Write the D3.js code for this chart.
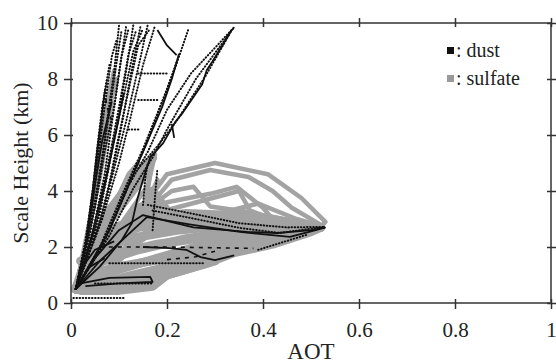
<!DOCTYPE html>
<html>
<head>
<meta charset="utf-8">
<script src="https://cdn.jsdelivr.net/npm/d3@7"></script>
<style>
  body { margin: 0; background: #fff; }
</style>
</head>
<body>
<script>
// tick values
const xTicks = [0, 0.2, 0.4, 0.6, 0.8, 1];
const yTicks = [0, 2, 4, 6, 8, 10];
const xTickLabels = ["0", "0.2", "0.4", "0.6", "0.8", "1"];
const yTickLabels = ["0", "2", "4", "6", "8", "10"];
const legendLabels = [": dust", ": sulfate"];

// sulfate profiles, [AOT, scale height km]
const sulfateLoops = [
  [[0.01,0.5],[0.03,2],[0.05,4],[0.065,6],[0.08,7.5],[0.09,8.3]],
  [[0.01,0.5],[0.035,2.5],[0.06,4.5],[0.075,6],[0.085,7.2]],
  [[0.01,0.5],[0.04,3],[0.065,5.5],[0.08,7.0],[0.095,8.0]],
  [[0.01,0.5],[0.05,2],[0.09,3.5],[0.12,4.6],[0.14,5.0]],
  [[0.01,0.5],[0.07,2],[0.12,3.2],[0.16,4.2],[0.175,5.3]],
  [[0.01,0.5],[0.09,1.8],[0.15,3],[0.165,4.6]],
  [[0.01,0.5],[0.1,2.6],[0.16,3.6],[0.18,4.4]],
  [[0.01,0.5],[0.1,2.7],[0.17,3.9],[0.2,4.6],[0.3,5.0],[0.41,4.6],[0.435,4.3],[0.48,3.75],[0.53,2.9],[0.52,2.7]],
  [[0.01,0.5],[0.12,2.9],[0.18,3.8],[0.21,4.4],[0.29,4.75],[0.37,4.5],[0.42,4.0],[0.46,3.4],[0.52,2.8]],
  [[0.01,0.5],[0.13,3.0],[0.21,4.0],[0.255,4.15],[0.29,3.45],[0.37,3.25],[0.45,2.9],[0.52,2.7]],
  [[0.01,0.5],[0.14,3.1],[0.2,3.6],[0.29,3.9],[0.345,4.15],[0.4,3.4],[0.415,3.1],[0.52,2.7]],
  [[0.01,0.5],[0.15,3.1],[0.24,3.5],[0.35,4.0],[0.373,3.3],[0.43,2.95],[0.52,2.7]],
  [[0.01,0.5],[0.17,3.2],[0.26,3.0],[0.33,3.3],[0.39,3.55],[0.47,3.0],[0.52,2.75]]
];
const sulfateCore = [
  [[0.01,0.5],[0.1,0.55],[0.18,0.9],[0.28,1.4],[0.34,1.8],[0.42,2.1],[0.5,2.55],[0.52,2.7]],
  [[0.01,0.5],[0.08,0.8],[0.18,1.2],[0.28,1.7],[0.4,2.25],[0.52,2.7]],
  [[0.01,0.5],[0.06,1.0],[0.16,1.5],[0.26,2.0],[0.38,2.4],[0.52,2.7]],
  [[0.01,0.5],[0.05,1.4],[0.14,1.9],[0.24,2.3],[0.36,2.6],[0.52,2.7]],
  [[0.01,0.5],[0.05,1.8],[0.12,2.3],[0.22,2.6],[0.35,2.8],[0.52,2.7]],
  [[0.01,0.5],[0.06,2.2],[0.14,2.7],[0.25,2.9],[0.4,2.9],[0.52,2.7]],
  [[0.01,0.5],[0.07,2.6],[0.15,3.0],[0.24,3.2],[0.38,3.1],[0.52,2.7]],
  [[0.01,0.5],[0.08,1.2],[0.12,2.0],[0.17,2.6],[0.2,3.3],[0.17,4.0]],
  [[0.01,0.5],[0.12,0.7],[0.2,1.0],[0.3,1.5]],
  [[0.02,0.45],[0.1,0.45],[0.17,0.6],[0.2,1.0]],
  [[0.01,0.5],[0.04,2.0],[0.08,3.3],[0.12,4.2],[0.16,5.0]],
  [[0.01,0.5],[0.06,2.5],[0.11,3.6],[0.15,4.5],[0.17,5.2]],
  [[0.01,0.5],[0.09,2.3],[0.14,3.4],[0.18,3.6],[0.19,3.0]],
  [[0.03,1.0],[0.1,1.3],[0.2,1.6],[0.32,2.2],[0.45,2.5]],
  [[0.02,1.5],[0.08,1.7],[0.18,2.1],[0.3,2.4]]
];

// dust profiles
const dustSolid = [
  [[0.01,0.5],[0.04,1.4],[0.08,2.6],[0.11,3.8],[0.13,4.6],[0.16,5.8],[0.19,7.0],[0.21,8.0],[0.225,8.9]],
  [[0.01,0.5],[0.06,1.3],[0.106,2.25],[0.127,2.86],[0.138,3.7],[0.15,4.4],[0.165,5.2],[0.192,5.71],[0.217,6.46],[0.233,6.8],[0.273,7.8],[0.283,8.32],[0.294,8.61],[0.335,9.75]],
  [[0.18,9.75],[0.2,9.2],[0.22,8.85]],
  [[0.01,0.5],[0.05,1.6],[0.1,2.6],[0.15,3.14],[0.255,2.7],[0.367,2.54],[0.43,2.5],[0.5,2.6],[0.53,2.7]],
  [[0.01,0.5],[0.06,1.5],[0.158,3.07],[0.25,2.8],[0.352,2.54],[0.456,2.36],[0.51,2.6],[0.53,2.7]],
  [[0.15,2.0],[0.206,1.96],[0.24,1.9],[0.27,1.64],[0.3,1.53],[0.34,1.7]],
  [[0.01,0.5],[0.02,0.7],[0.08,0.9],[0.165,0.93],[0.17,0.75],[0.1,0.7],[0.03,0.6]],
  [[0.01,0.5],[0.03,2],[0.045,4],[0.055,5.5],[0.065,6.8],[0.07,7.5]],
  [[0.01,0.5],[0.04,2.2],[0.06,3.6],[0.075,4.6],[0.095,6.2],[0.11,7.5]],
  [[0.01,0.5],[0.035,2.4],[0.05,4.2],[0.065,5.8],[0.085,7.2]],
  [[0.02,1.2],[0.05,1.9],[0.09,2.2]],
  [[0.02,0.8],[0.04,1.3],[0.07,1.6]],
  [[0.21,6.4],[0.215,5.9]]
];
const dustDotted = [
  [[0.01,0.5],[0.04,2.5],[0.06,4.5],[0.075,6.5],[0.09,8.3],[0.1,9.9]],
  [[0.01,0.5],[0.045,2.5],[0.07,4.6],[0.085,6.4],[0.1,8.2],[0.115,9.9]],
  [[0.01,0.5],[0.05,2.6],[0.075,4.5],[0.095,6.3],[0.115,8.3],[0.13,9.95]],
  [[0.01,0.5],[0.055,2.6],[0.085,4.6],[0.105,6.3],[0.125,8.2],[0.145,9.9]],
  [[0.01,0.5],[0.06,2.8],[0.09,4.8],[0.115,6.5],[0.14,8.4],[0.16,9.95]],
  [[0.01,0.5],[0.065,3],[0.1,5.0],[0.125,6.7],[0.15,8.5],[0.175,9.9]],
  [[0.01,0.5],[0.035,2.5],[0.05,4.5],[0.06,6.0],[0.07,7.5],[0.08,8.5]],
  [[0.01,0.5],[0.04,3],[0.055,5],[0.07,7],[0.085,8.8],[0.095,9.4]],
  [[0.01,0.5],[0.03,2.2],[0.045,4.0],[0.055,5.6],[0.065,7.0],[0.075,8.0]],
  [[0.01,0.5],[0.045,3.2],[0.065,5.2],[0.08,6.8],[0.095,8.6],[0.105,9.7]],
  [[0.01,0.5],[0.05,3.4],[0.07,5.4],[0.09,7.0],[0.105,8.8],[0.12,9.8]],
  [[0.01,0.5],[0.055,3.0],[0.08,5.2],[0.1,7.0],[0.12,8.9],[0.135,9.7]],
  [[0.01,0.5],[0.06,3.2],[0.085,5.5],[0.11,7.4],[0.13,9.0],[0.15,9.8]],
  [[0.01,0.5],[0.07,3.4],[0.095,5.6],[0.12,7.6],[0.14,9.2],[0.165,9.8]],
  [[0.01,0.5],[0.06,2.0],[0.11,4.0],[0.15,5.5],[0.19,7.2],[0.217,8.4],[0.245,9.8]],
  [[0.01,0.5],[0.065,2.1],[0.115,4.1],[0.155,5.6],[0.195,7.4],[0.22,8.6]],
  [[0.01,0.5],[0.07,2.2],[0.12,4.2],[0.16,5.4],[0.2,6.9],[0.25,8.2],[0.34,9.85]],
  [[0.01,0.5],[0.08,2.4],[0.13,4.1],[0.17,5.2],[0.2,6.2],[0.26,8.0],[0.34,9.85]],
  [[0.14,4.8],[0.18,5.6],[0.22,6.5],[0.28,8.1],[0.33,9.6]],
  [[0.14,8.2],[0.2,8.2]],
  [[0.14,7.25],[0.185,7.25]],
  [[0.12,6.2],[0.145,6.2]],
  [[0.08,1.42],[0.275,1.42]],
  [[0.005,0.18],[0.11,0.18]],
  [[0.17,3.3],[0.248,3.04],[0.352,2.68],[0.435,2.5],[0.51,2.68],[0.53,2.7]],
  [[0.16,3.5],[0.25,3.2],[0.35,2.85],[0.45,2.7],[0.53,2.72]],
  [[0.39,1.9],[0.49,2.43]],
  [[0.05,0.7],[0.17,0.7]],
  [[0.15,3.5],[0.155,4.5],[0.16,5.0]],
  [[0.17,2.6],[0.175,3.8],[0.18,4.8]]
];
const dustDashed = [
  [[0.06,2.0],[0.2,2.0],[0.38,1.95]],
  [[0.07,7.6],[0.075,7.0],[0.085,6.5]],
  [[0.2,1.55],[0.26,1.65],[0.3,1.85]]
];

const width = 556, height = 363;
const marginLeft = 71, marginRight = 5, marginTop = 23, marginBottom = 60;
const serif = '"Liberation Serif"';

const x = d3.scaleLinear().domain([0, 1]).range([marginLeft, width - marginRight]);
const y = d3.scaleLinear().domain([0, 10]).range([height - marginBottom, marginTop]);

const svg = d3.create("svg").attr("width", width).attr("height", height)
  .style("display", "block");

const line = d3.line().x(d => x(d[0])).y(d => y(d[1]));

// sulfate
svg.append("g")
  .attr("fill", "none").attr("stroke", "#a3a3a3").attr("stroke-width", 9)
  .attr("stroke-linejoin", "round").attr("stroke-linecap", "round")
  .selectAll("path").data(sulfateCore).join("path").attr("d", line);
svg.append("g")
  .attr("fill", "none").attr("stroke", "#a3a3a3").attr("stroke-width", 4.5)
  .attr("stroke-linejoin", "round").attr("stroke-linecap", "round")
  .selectAll("path").data(sulfateLoops).join("path").attr("d", line);

// dust
svg.append("g")
  .attr("fill", "none").attr("stroke", "#111").attr("stroke-width", 2)
  .attr("stroke-linecap", "round").attr("stroke-dasharray", "0.5,2.6")
  .selectAll("path").data(dustDotted).join("path").attr("d", line);
svg.append("g")
  .attr("fill", "none").attr("stroke", "#111").attr("stroke-width", 1.6)
  .attr("stroke-dasharray", "4,5")
  .selectAll("path").data(dustDashed).join("path").attr("d", line);
svg.append("g")
  .attr("fill", "none").attr("stroke", "#111").attr("stroke-width", 1.8)
  .attr("stroke-linejoin", "round")
  .selectAll("path").data(dustSolid).join("path").attr("d", line);

// frame and axes
const axisColor = "#333";
svg.append("rect")
  .attr("x", x(0)).attr("y", y(10))
  .attr("width", x(1) - x(0)).attr("height", y(0) - y(10))
  .attr("fill", "none").attr("stroke", axisColor).attr("stroke-width", 1.5);

function styleAxis(g) {
  g.select(".domain").remove();
  g.selectAll(".tick line").attr("stroke", axisColor).attr("stroke-width", 1.5);
  g.selectAll(".tick text").attr("fill", "#222").style("font-size", "21px");
}

svg.append("g")
  .attr("transform", `translate(0,${y(0)})`)
  .call(d3.axisBottom(x).tickValues(xTicks).tickFormat((d, i) => xTickLabels[i]))
  .call(styleAxis)
  .call(g => g.selectAll(".tick line").attr("y1", -4).attr("y2", 6))
  .call(g => g.selectAll(".tick text").attr("y", 34).attr("dy", 0));

svg.append("g")
  .attr("transform", `translate(0,${y(10)})`)
  .call(d3.axisTop(x).tickValues(xTicks).tickFormat(""))
  .call(styleAxis)
  .call(g => g.selectAll(".tick line").attr("y1", -5).attr("y2", 4));

svg.append("g")
  .attr("transform", `translate(${x(0)},0)`)
  .call(d3.axisLeft(y).tickValues(yTicks).tickFormat((d, i) => yTickLabels[i]))
  .call(styleAxis)
  .call(g => g.selectAll(".tick line").attr("x1", -7).attr("x2", 2))
  .call(g => g.selectAll(".tick text").attr("x", -13).attr("dy", "0.33em"));

svg.append("g")
  .attr("transform", `translate(${x(1)},0)`)
  .call(d3.axisRight(y).tickValues(yTicks).tickFormat(""))
  .call(styleAxis)
  .call(g => g.selectAll(".tick line").attr("x1", -4).attr("x2", 5));

// axis titles
svg.append("text")
  .attr("x", (x(0) + x(1)) / 2).attr("y", 359)
  .attr("text-anchor", "middle").attr("fill", "#222")
  .style("font-size", "23px")
  .text("AOT");
svg.append("text")
  .attr("transform", `translate(28,${(y(0) + y(10)) / 2}) rotate(-90)`)
  .attr("text-anchor", "middle").attr("fill", "#222")
  .style("font-size", "22px")
  .text("Scale Height (km)");

// legend
const legendColors = ["#111", "#999"];
const legend = svg.append("g").attr("transform", "translate(447,0)");
legend.selectAll("rect").data(legendLabels).join("rect")
  .attr("x", 0).attr("y", (d, i) => 47 + i * 28)
  .attr("width", 7).attr("height", 7)
  .attr("fill", (d, i) => legendColors[i]);
legend.selectAll("text").data(legendLabels).join("text")
  .attr("x", 9).attr("y", (d, i) => 57 + i * 28)
  .style("font-size", "20px").attr("fill", "#222")
  .text(d => d);

// serif on every text element directly
svg.selectAll("text").style("font-family", serif);

document.body.appendChild(svg.node());
</script>
</body>
</html>
